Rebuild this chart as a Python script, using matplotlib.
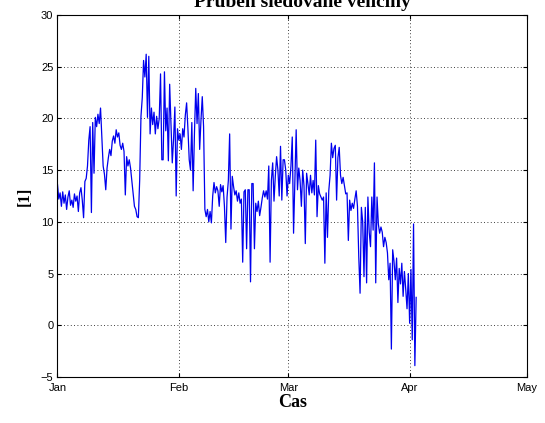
import numpy as np
import matplotlib
matplotlib.use("Agg")
import matplotlib.pyplot as plt

# values, 3 samples per day (every 8 h) from 1 Jan
values = [
    13.6, 12.2, 12.8,  11.5, 12.9, 11.8,  12.6, 11.2, 12.4,  13.0, 11.6, 12.1,
    11.4, 12.7, 12.0,  12.5, 11.0, 12.8,  13.3, 12.1, 10.4,  13.9, 14.2, 15.4,
    17.9, 19.2, 10.9,  19.6, 14.7, 20.1,  19.2, 20.4, 19.5,  21.0, 18.3, 15.4,
    14.6, 13.1, 15.2,  16.2, 17.0, 16.4,  17.8, 18.3, 17.6,  18.9, 18.2, 18.6,
    17.4, 17.0, 17.6,  16.8, 12.6, 16.3,  15.4, 16.0, 15.2,  14.0, 12.8, 11.5,
    11.2, 10.5, 10.4,  14.0, 20.2, 22.0,  25.6, 24.0, 26.2,  20.1, 26.0, 18.5,
    21.0, 19.4, 20.6,  18.5, 20.2, 19.0,  20.0, 24.3, 16.0,  16.0, 24.5, 18.8,
    21.0, 15.9, 23.3,  19.5, 15.7, 18.0,  21.1, 12.5, 19.0,  17.9, 18.5, 17.0,
    19.0, 18.2, 20.3,  21.5, 19.0, 16.0,  15.0, 19.6, 13.0,  18.5, 22.9, 19.5,
    22.4, 17.0, 19.8,  22.1, 19.2, 11.2,  10.5, 11.2, 10.0,  11.0, 9.9, 12.5,
    13.8, 12.8, 13.4,  13.0, 11.5, 13.6,  12.9, 13.5, 11.5,  8.0, 12.4, 14.0,
    18.5, 9.3, 14.4,   13.4, 12.6, 13.0,  12.0, 12.8, 11.8,  12.2, 6.1, 12.9,
    13.1, 7.4, 13.1,   13.1, 4.2, 13.7,   13.7, 7.4, 11.8,   11.0, 12.0, 10.6,
    11.4, 12.3, 13.0,  12.4, 13.0, 12.2,  15.4, 6.1, 14.0,   15.7, 12.0, 14.4,
    16.3, 15.0, 12.5,  17.3, 12.1, 16.0,  16.0, 15.0, 12.5,  14.5, 13.7, 15.4,
    18.2, 8.9, 14.0,   18.9, 13.1, 15.2,  14.0, 11.5, 15.0,  13.5, 7.9, 14.7,
    13.7, 12.6, 14.5,  12.8, 14.0, 12.6,  17.9, 10.5, 13.5,  12.7, 12.4, 12.1,
    12.4, 6.0, 12.8,   8.5, 13.0, 14.5,   17.6, 16.2, 17.1,  17.4, 12.1, 16.2,
    17.2, 14.5, 13.7,  14.3, 13.5, 12.7,  12.8, 8.2, 12.1,   11.1, 11.8, 11.3,
    12.2, 13.0, 11.5,  6.6, 3.1, 11.4,    10.0, 4.7, 11.4,   4.1, 12.4, 9.0,
    7.6, 12.4, 9.2,    15.7, 4.1, 12.4,   9.8, 8.9, 9.5,     9.0, 7.6, 8.5,
    8.0, 7.0, 4.4,     6.0, -2.3, 7.3,    6.2, 4.4, 6.5,     2.2, 5.5, 4.0,
    6.0, 2.8, 5.2,     3.5, 1.6, 5.0,     0.2, 5.4, -1.4,    9.8, -3.9, 2.7,
]
start = np.datetime64("2009-01-01T00:00")
times = start + np.arange(len(values)) * np.timedelta64(8, "h")
month_ticks = np.array(["2009-01-01", "2009-02-01", "2009-03-01",
                        "2009-04-01", "2009-05-01"], dtype="datetime64[D]")
month_labels = ["Jan", "Feb", "Mar", "Apr", "May"]
y_ticks = [-5, 0, 5, 10, 15, 20, 25, 30]

fig = plt.figure(figsize=(5.45, 4.23), dpi=100)
ax = fig.add_axes([0.1055, 0.1087, 0.8615, 0.856])

ax.plot(times.astype("datetime64[s]").astype(object), values, color="#0000ee", linewidth=0.9)

ax.set_xlim(month_ticks[0].astype(object), month_ticks[-1].astype(object))
ax.set_ylim(-5, 30)
ax.set_xticks([d.astype(object) for d in month_ticks])
ax.set_xticklabels(month_labels)
ax.set_yticks(y_ticks)

ax.grid(True, color="black", linestyle=(0, (1, 3)), linewidth=0.6)
ax.tick_params(direction="in", length=3, top=True, right=True,
               labelsize=8, colors="black")
ax.tick_params(axis="x", pad=4)
ax.tick_params(axis="y", pad=3)
for lab in ax.get_xticklabels() + ax.get_yticklabels():
    lab.set_family("Liberation Sans")
for s in ax.spines.values():
    s.set_linewidth(0.8)

ax.set_xlabel("Cas", family="Liberation Serif", fontweight="bold", fontsize=13, labelpad=1)
ax.set_ylabel("[1]", family="Liberation Serif", fontweight="bold", fontsize=12, labelpad=6)

# title sits mostly above the top edge, only its lower part shows
fig.text(0.554, 0.9835, "Průběh sledované veličiny", family="Liberation Serif",
         fontweight="bold", fontsize=14, ha="center", va="baseline")

fig.savefig("out.png", dpi=100)
